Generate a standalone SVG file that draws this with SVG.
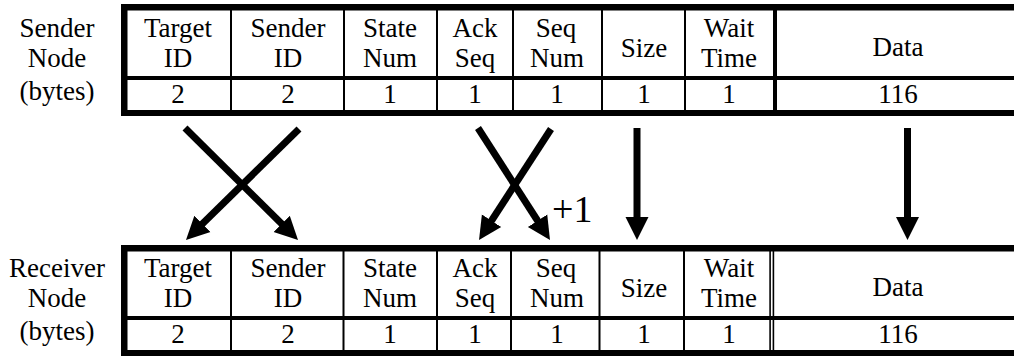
<svg xmlns="http://www.w3.org/2000/svg" width="1014" height="356" viewBox="0 0 1014 356">
<style>
  text { font-family: "Liberation Serif", "Times New Roman", serif; font-size: 27px; fill: #000; text-anchor: middle; }
  .plus { font-size: 38px; text-anchor: start; }
  .bar { fill: #000; }
  .conn { stroke: #000; stroke-width: 7; fill: none; marker-end: url(#ah); }
</style>
<defs>
  <marker id="ah" markerUnits="userSpaceOnUse" markerWidth="26" markerHeight="26" viewBox="0 -13 26 26" refX="1" refY="0" orient="auto">
    <path d="M0,-11.5 L23,0 L0,11.5 z" fill="#000"/>
  </marker>
</defs>
<rect width="1014" height="356" fill="#fff"/>

<g id="sender-label">
  <text x="57" y="37">Sender</text>
  <text x="57" y="67">Node</text>
  <text x="57" y="100">(bytes)</text>
</g>

<g id="sender-table">
  <rect class="bar" x="121" y="4" width="900" height="6.5"/>
  <rect class="bar" x="121" y="4" width="6.5" height="112"/>
  <rect class="bar" x="121" y="76" width="900" height="4"/>
  <rect class="bar" x="121" y="110" width="900" height="6"/>
  <rect class="bar" x="230" y="10" width="2" height="100"/>
  <rect class="bar" x="343" y="10" width="2" height="100"/>
  <rect class="bar" x="436" y="10" width="2" height="100"/>
  <rect class="bar" x="512" y="10" width="2" height="100"/>
  <rect class="bar" x="601" y="10" width="2" height="100"/>
  <rect class="bar" x="684" y="10" width="2" height="100"/>
  <rect class="bar" x="773" y="10" width="4" height="100"/>
  <text x="178" y="37">Target</text><text x="178" y="67">ID</text>
  <text x="288" y="37">Sender</text><text x="288" y="67">ID</text>
  <text x="390" y="37">State</text><text x="390" y="67">Num</text>
  <text x="475" y="37">Ack</text><text x="475" y="67">Seq</text>
  <text x="556" y="37">Seq</text><text x="557" y="67">Num</text>
  <text x="644" y="57">Size</text>
  <text x="729" y="37">Wait</text><text x="729" y="67">Time</text>
  <text x="898" y="56">Data</text>
  <text x="178" y="103">2</text>
  <text x="288" y="103">2</text>
  <text x="390" y="103">1</text>
  <text x="475" y="103">1</text>
  <text x="557" y="103">1</text>
  <text x="644" y="103">1</text>
  <text x="729" y="103">1</text>
  <text x="898" y="103">116</text>
</g>

<g id="receiver-label">
  <text x="57" y="277">Receiver</text>
  <text x="57" y="307">Node</text>
  <text x="57" y="340">(bytes)</text>
</g>

<g id="receiver-table">
  <rect class="bar" x="121" y="245" width="900" height="6.5"/>
  <rect class="bar" x="121" y="245" width="6.5" height="111"/>
  <rect class="bar" x="121" y="316" width="900" height="4"/>
  <rect class="bar" x="121" y="350" width="900" height="6"/>
  <rect class="bar" x="230" y="251" width="2" height="100"/>
  <rect class="bar" x="342.5" y="251" width="2" height="100"/>
  <rect class="bar" x="436" y="251" width="2" height="100"/>
  <rect class="bar" x="510" y="251" width="2" height="100"/>
  <rect class="bar" x="598.5" y="251" width="2" height="100"/>
  <rect class="bar" x="683" y="251" width="2" height="100"/>
  <rect class="bar" x="769.3" y="251" width="1.6" height="100"/>
  <rect class="bar" x="772.6" y="251" width="1.6" height="100"/>
  <text x="178" y="277">Target</text><text x="178" y="307">ID</text>
  <text x="288" y="277">Sender</text><text x="288" y="307">ID</text>
  <text x="390" y="277">State</text><text x="390" y="307">Num</text>
  <text x="475" y="277">Ack</text><text x="475" y="307">Seq</text>
  <text x="556" y="277">Seq</text><text x="557" y="307">Num</text>
  <text x="644" y="297">Size</text>
  <text x="729" y="277">Wait</text><text x="729" y="307">Time</text>
  <text x="898" y="296">Data</text>
  <text x="178" y="343">2</text>
  <text x="288" y="343">2</text>
  <text x="390" y="343">1</text>
  <text x="475" y="343">1</text>
  <text x="557" y="343">1</text>
  <text x="644" y="343">1</text>
  <text x="729" y="343">1</text>
  <text x="898" y="343">116</text>
</g>

<g id="connectors">
  <path class="conn" d="M185,128 L282.4,224.5"/>
  <path class="conn" d="M299,129 L201.7,224.6"/>
  <path class="conn" d="M478,128 L538.1,221.5"/>
  <path class="conn" d="M551,129 L491,221.5"/>
  <path class="conn" d="M637,128 L637,218"/>
  <path class="conn" d="M907.5,128 L907.5,218"/>
  <text class="plus" x="552" y="222">+1</text>
</g>
</svg>
